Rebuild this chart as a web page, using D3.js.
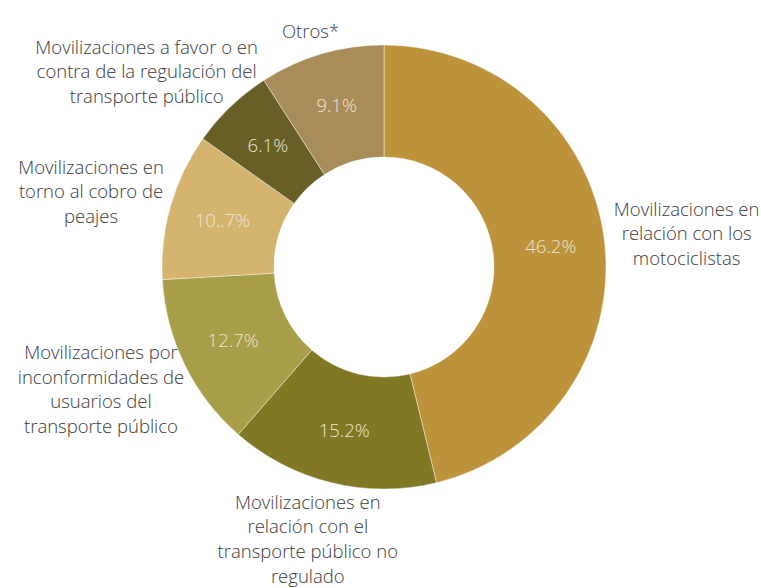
<!DOCTYPE html>
<html>
<head>
<meta charset="utf-8">
<script src="https://cdn.jsdelivr.net/npm/d3@7"></script>
<style>
  body { margin: 0; background: #fff; }
  text { font-family: "Open Sans", sans-serif; }
</style>
</head>
<body>
<svg id="chart" width="761" height="588"></svg>
<script>
// datos del gráfico
var categories = [
  ["Movilizaciones en", "relación con los", "motociclistas"],
  ["Movilizaciones en", "relación con el", "transporte público no", "regulado"],
  ["Movilizaciones por", "inconformidades de", "usuarios del", "transporte público"],
  ["Movilizaciones en", "torno al cobro de", "peajes"],
  ["Movilizaciones a favor o en", "contra de la regulación del", "transporte público"],
  ["Otros*"]
];
var values = [46.2, 15.2, 12.7, 10.7, 6.1, 9.1];
var valueLabels = ["46.2%", "15.2%", "12.7%", "10..7%", "6.1%", "9.1%"];
var colors = ["#bc923a", "#807825", "#a89d48", "#d5b470", "#675f25", "#a88c5a"];

var svg = d3.select("#chart");
var cx = 384, cy = 267;
var outerR = 222, innerR = 110;
var lineH = 24.6;

var g = svg.append("g").attr("transform", "translate(" + cx + "," + cy + ")");

var pie = d3.pie().sort(null).value(function(d){ return d; });
var arcs = pie(values);

var arc = d3.arc().innerRadius(innerR).outerRadius(outerR);
var labelArc = d3.arc().innerRadius(168).outerRadius(168);

g.selectAll("path.slice")
  .data(arcs)
  .enter().append("path")
  .attr("class", "slice")
  .attr("d", arc)
  .attr("fill", function(d, i){ return colors[i]; })
  .attr("stroke", "rgba(255,255,255,0.6)")
  .attr("stroke-width", 0.7);

// porcentajes dentro de la dona
g.selectAll("text.pct")
  .data(arcs)
  .enter().append("text")
  .attr("class", "pct")
  .attr("transform", function(d){ return "translate(" + labelArc.centroid(d) + ")"; })
  .attr("text-anchor", "middle")
  .attr("dy", "0.35em")
  .attr("font-size", "18.5px")
  .attr("font-weight", 300)
  .attr("fill", "#efe7d2")
  .text(function(d, i){ return valueLabels[i]; });

// etiquetas externas: se ubican fuera del arco según el ángulo medio
var anchorR = 232;
arcs.forEach(function(d, i){
  var lines = categories[i];
  var mid = (d.startAngle + d.endAngle) / 2;
  var sx = Math.sin(mid), sy = -Math.cos(mid);
  var t = g.append("text")
    .attr("text-anchor", "middle")
    .attr("font-size", "18.5px")
    .attr("font-weight", 300)
    .attr("fill", "#3a3a3a");
  lines.forEach(function(l, k){
    t.append("tspan").attr("x", 0).attr("y", k * lineH).text(l);
  });
  var bb = t.node().getBBox();
  var w = bb.width, h = lines.length * lineH;
  var px = anchorR * sx + sx * w / 2;
  var py = anchorR * sy + sy * h / 2;
  // centro del bloque -> primera línea
  var y0 = py - h / 2 + lineH * 0.72;
  t.attr("transform", "translate(" + px + "," + y0 + ")");
});
</script>
</body>
</html>
